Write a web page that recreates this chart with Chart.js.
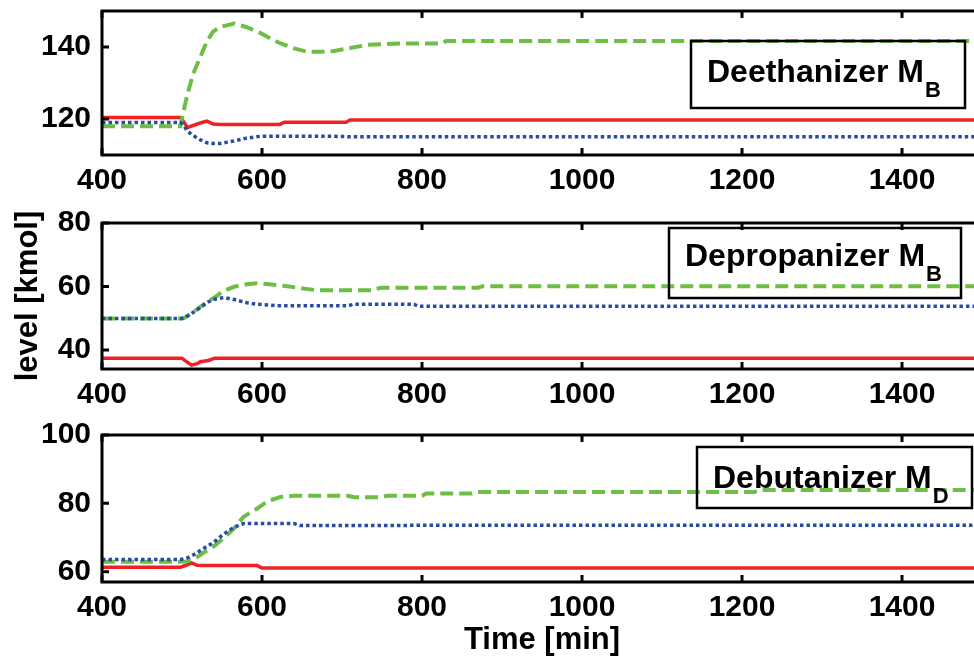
<!DOCTYPE html>
<html>
<head>
<meta charset="utf-8">
<script src="https://cdn.jsdelivr.net/npm/chart.js@4/dist/chart.umd.min.js"></script>
<style>
  html, body { margin: 0; padding: 0; background: #fff; overflow: hidden; width: 974px; height: 662px; }
  canvas { position: absolute; left: 0; }
</style>
</head>
<body>
<canvas id="deethanizer"></canvas>
<canvas id="depropanizer"></canvas>
<canvas id="debutanizer"></canvas>
<script>
// Shared time axis [min]
const timeRange = [400, 1500];
const timeTicks = [400, 600, 800, 1000, 1200, 1400];

// Deethanizer bottoms holdup M_B [kmol]
const deTime  = [400, 498, 501, 507, 514, 523, 531, 539, 548, 565, 581, 598, 606, 622, 628, 640, 656, 673, 690, 705, 710, 732, 752, 773, 826, 830, 1500];
const deSolid = [120.4, 120.4, 119.6, 117.6, 118.2, 118.9, 119.4, 118.6, 118.5, 118.5, 118.5, 118.5, 118.5, 118.5, 119.1, 119.1, 119.1, 119.1, 119.1, 119.1, 119.7, 119.7, 119.7, 119.7, 119.7, 119.7, 119.7];
const deDash  = [118.0, 118.0, 121.3, 127.0, 132.6, 137.3, 141.5, 144.3, 145.6, 146.5, 145.5, 143.9, 142.9, 141.1, 140.6, 139.6, 138.7, 138.7, 138.9, 139.5, 139.7, 140.6, 140.8, 141.0, 141.0, 141.7, 141.7];
const deDot   = [119.0, 119.0, 118.6, 116.6, 115.4, 114.2, 113.4, 113.2, 113.2, 113.9, 114.7, 115.2, 115.2, 115.2, 115.2, 115.2, 115.2, 115.2, 115.2, 115.1, 115.1, 115.1, 115.1, 115.1, 115.1, 115.1, 115.1];
const deRange = [110, 150];
const deTicks = [120, 140];

// Depropanizer bottoms holdup M_B [kmol]
const dpTime  = [400, 500, 503, 512, 519, 523, 533, 541, 552, 565, 581, 594, 606, 619, 627, 648, 669, 707, 715, 740, 748, 790, 795, 870, 876, 1500];
const dpSolid = [37.4, 37.4, 36.8, 35.2, 35.7, 36.3, 36.7, 37.4, 37.4, 37.4, 37.4, 37.4, 37.4, 37.4, 37.4, 37.4, 37.4, 37.4, 37.4, 37.4, 37.4, 37.4, 37.4, 37.4, 37.4, 37.4];
const dpDash  = [49.9, 49.9, 50.1, 51.6, 52.8, 53.6, 55.4, 56.6, 58.6, 59.9, 60.7, 61.0, 60.8, 60.4, 60.2, 59.5, 58.8, 58.8, 58.8, 58.8, 59.6, 59.6, 59.6, 59.6, 60.1, 60.1];
const dpDot   = [49.9, 49.9, 50.1, 51.5, 52.7, 53.4, 55.2, 56.0, 56.5, 55.9, 54.9, 54.4, 54.2, 53.9, 53.9, 53.9, 53.9, 53.9, 54.4, 54.4, 54.4, 54.4, 53.8, 53.8, 53.8, 53.8];
const dpRange = [34, 80];
const dpTicks = [40, 60, 80];

// Debutanizer distillate holdup M_D [kmol]
const dbTime  = [400, 498, 505, 512, 519, 527, 539, 552, 565, 577, 594, 600, 606, 623, 640, 648, 707, 715, 748, 756, 800, 805, 862, 868, 1215, 1222, 1500];
const dbSolid = [61.3, 61.3, 61.9, 62.6, 61.9, 61.8, 61.8, 61.8, 61.8, 61.8, 61.8, 61.1, 61.1, 61.1, 61.1, 61.1, 61.1, 61.1, 61.1, 61.1, 61.1, 61.1, 61.1, 61.1, 61.1, 61.1, 61.1];
const dbDash  = [62.9, 62.9, 63.0, 63.4, 64.3, 65.6, 67.3, 69.8, 72.7, 76.1, 78.5, 79.5, 80.5, 81.9, 82.2, 82.2, 82.2, 81.8, 81.8, 82.2, 82.2, 82.9, 82.9, 83.3, 83.3, 83.9, 83.9];
const dbDot   = [63.6, 63.6, 63.9, 64.6, 65.6, 66.8, 68.5, 71.0, 73.0, 74.1, 74.1, 74.1, 74.1, 74.1, 74.1, 73.5, 73.5, 73.5, 73.5, 73.5, 73.6, 73.6, 73.6, 73.6, 73.6, 73.6, 73.6];
const dbRange = [57, 100];
const dbTicks = [60, 80, 100];

const FONT = '"Liberation Sans", Arial, Helvetica, sans-serif';
const RED = 'rgb(238,32,36)';
const GREEN = 'rgb(108,190,69)';
const BLUE = 'rgb(40,75,165)';

const pts = (t, v) => t.map((x, i) => ({ x, y: v[i] }));

// Draws the box frame, inward tick marks and the labelled text box
const framePlugin = {
  id: 'frame',
  afterDatasetsDraw(chart, args, opts) {
    const { ctx, chartArea: a, scales } = chart;
    ctx.save();
    ctx.strokeStyle = '#000';
    ctx.lineWidth = 3;
    ctx.strokeRect(a.left, a.top, a.right - a.left, a.bottom - a.top);
    ctx.beginPath();
    scales.x.ticks.forEach(t => {
      const px = scales.x.getPixelForValue(t.value);
      ctx.moveTo(px, a.bottom); ctx.lineTo(px, a.bottom - 7);
      ctx.moveTo(px, a.top); ctx.lineTo(px, a.top + 7);
    });
    scales.y.ticks.forEach(t => {
      const py = scales.y.getPixelForValue(t.value);
      ctx.moveTo(a.left, py); ctx.lineTo(a.left + 7, py);
      ctx.moveTo(a.right, py); ctx.lineTo(a.right - 7, py);
    });
    ctx.stroke();

    const b = opts.box;
    ctx.lineWidth = 2.5;
    ctx.strokeRect(b.left, b.top, b.right - b.left, b.bottom - b.top);
    ctx.fillStyle = '#000';
    ctx.textBaseline = 'alphabetic';
    ctx.textAlign = 'left';
    ctx.font = 'bold 32px ' + FONT;
    ctx.fillText(opts.label, b.textX, b.baseline);
    const w = ctx.measureText(opts.label).width;
    ctx.font = 'bold 22px ' + FONT;
    ctx.fillText(opts.sub, b.textX + w + 1, b.baseline + 15);
    ctx.restore();
  }
};

function panel(id, p) {
  const canvas = document.getElementById(id);
  canvas.width = 1000;
  canvas.height = p.height;
  canvas.style.top = p.top + 'px';
  const tickFont = { family: FONT, size: 30, weight: 'bold' };
  const titleFont = { family: FONT, size: 31, weight: 'bold' };
  const box = {
    left: p.box.left, right: p.box.right, textX: p.box.textX,
    top: p.box.top - p.top, bottom: p.box.bottom - p.top, baseline: p.box.baseline - p.top
  };
  return new Chart(canvas, {
    type: 'line',
    data: {
      datasets: [
        { data: pts(p.time, p.dot), borderColor: BLUE, borderWidth: 3.5, borderDash: [3.5, 3], order: 0 },
        { data: pts(p.time, p.dash), borderColor: GREEN, borderWidth: 4, borderDash: [13, 6], order: 1 },
        { data: pts(p.time, p.solid), borderColor: RED, borderWidth: 3.5, order: 2 }
      ]
    },
    options: {
      responsive: false,
      animation: false,
      devicePixelRatio: 1,
      layout: { padding: { top: p.padTop, right: 18, left: 0, bottom: 0 } },
      elements: { point: { radius: 0 }, line: { tension: 0, fill: false, borderCapStyle: 'butt' } },
      plugins: {
        legend: { display: false },
        tooltip: { enabled: false },
        frame: { box, label: p.label, sub: p.sub }
      },
      scales: {
        x: {
          type: 'linear', min: timeRange[0], max: timeRange[1],
          afterBuildTicks: s => { s.ticks = timeTicks.map(v => ({ value: v })); },
          afterFit: s => { s.height = p.xHeight; s.paddingLeft = 0; s.paddingRight = 0; },
          grid: { display: false, drawTicks: false },
          border: { display: false },
          ticks: { padding: 8, color: '#000', font: tickFont, maxRotation: 0, autoSkip: false, callback: v => String(v) },
          title: { display: !!p.xTitle, text: p.xTitle || '', color: '#000', font: titleFont, padding: { top: 0, bottom: 3 } }
        },
        y: {
          type: 'linear', min: p.range[0], max: p.range[1],
          afterBuildTicks: s => { s.ticks = p.ticks.map(v => ({ value: v })); },
          afterFit: s => { s.width = 102; s.paddingTop = 0; s.paddingBottom = 0; },
          grid: { display: false, drawTicks: false },
          border: { display: false },
          ticks: { padding: 11, color: '#000', font: tickFont, autoSkip: false, callback: v => String(v) },
          title: { display: !!p.yTitle, text: p.yTitle || '', color: '#000', font: titleFont, padding: { top: 10, bottom: 0 } }
        }
      }
    },
    plugins: [framePlugin]
  });
}

panel('deethanizer', {
  top: 0, height: 200, padTop: 11, xHeight: 45,
  time: deTime, solid: deSolid, dash: deDash, dot: deDot, range: deRange, ticks: deTicks,
  label: 'Deethanizer M', sub: 'B',
  box: { left: 691, right: 965, top: 41, bottom: 108, textX: 707, baseline: 82 }
});
panel('depropanizer', {
  top: 203, height: 209, padTop: 20, xHeight: 43,
  time: dpTime, solid: dpSolid, dash: dpDash, dot: dpDot, range: dpRange, ticks: dpTicks,
  label: 'Depropanizer M', sub: 'B', yTitle: 'level [kmol]',
  box: { left: 669, right: 961, top: 228, bottom: 298, textX: 685, baseline: 266 }
});
panel('debutanizer', {
  top: 415, height: 247, padTop: 20, xHeight: 80,
  time: dbTime, solid: dbSolid, dash: dbDash, dot: dbDot, range: dbRange, ticks: dbTicks,
  label: 'Debutanizer M', sub: 'D', xTitle: 'Time [min]',
  box: { left: 697, right: 972, top: 447, bottom: 508, textX: 713, baseline: 488 }
});
</script>
</body>
</html>
